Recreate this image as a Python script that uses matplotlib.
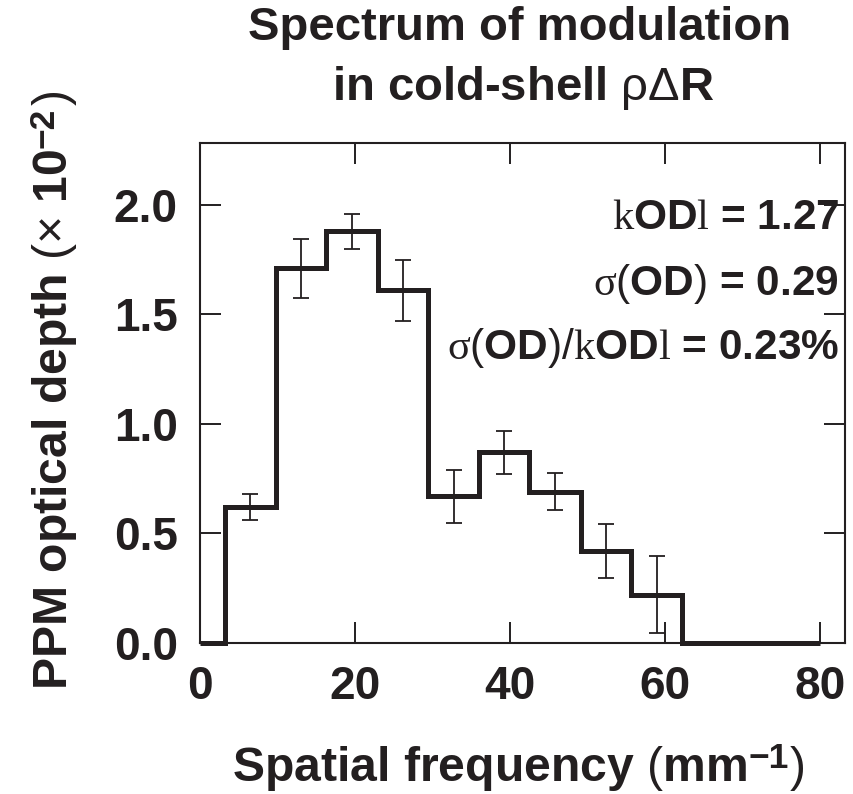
import matplotlib
matplotlib.use("Agg")
import matplotlib.pyplot as plt
import numpy as np

# ---- data ----
freq_edges = [0, 3.2, 9.8, 16.3, 22.9, 29.4, 36.0, 42.5, 49.1, 55.6, 62.2, 80]
ppm_values = [0, 0.62, 1.71, 1.88, 1.61, 0.67, 0.87, 0.69, 0.42, 0.22, 0]
ppm_errors = [0.06, 0.135, 0.08, 0.14, 0.12, 0.10, 0.085, 0.125, 0.175]
x_ticks = [0, 20, 40, 60, 80]
y_ticks = [0.0, 0.5, 1.0, 1.5, 2.0]
stats_lines = [
    r"$\mathsf{k}$OD$\mathsf{l}$ = 1.27",
    r"$\mathsf{\sigma}\mathrm{(}$OD$\mathrm{)}$ = 0.29",
    r"$\mathsf{\sigma}\mathrm{(}$OD$\mathrm{)/}\mathsf{k}$OD$\mathsf{l}$ = 0.23%",
]
xlabel_parts = [r"Spatial frequency $\mathrm{(}$mm", "\u22121", r"$\mathrm{)}$"]
ylabel_parts = [r"PPM optical depth $\mathrm{(\times\ }$10", "\u22122", r"$\mathrm{)}$"]

plt.rcParams['font.family'] = ['Liberation Sans', 'DejaVu Sans']
plt.rcParams['mathtext.fontset'] = 'custom'
plt.rcParams['mathtext.rm'] = 'Liberation Sans:weight=normal'
plt.rcParams['mathtext.bf'] = 'Liberation Sans:weight=bold'
plt.rcParams['mathtext.sf'] = 'Liberation Serif:weight=normal'
plt.rcParams['mathtext.it'] = 'Liberation Sans:style=italic'

INK = '#231f20'
W, H = 854, 794
fig = plt.figure(figsize=(W / 100, H / 100), dpi=100)
ax = fig.add_axes([200 / W, 1 - 643 / H, 645 / W, 500 / H])
renderer = fig.canvas.get_renderer()

edges = np.array(freq_edges)
vals = np.array(ppm_values)
sp = ax.stairs(vals, edges, baseline=None, color=INK, linewidth=3.6, clip_on=False)
sp.set_joinstyle('miter')
sp.set_capstyle('butt')

centers = 0.5 * (edges[1:-2] + edges[2:-1])
ax.errorbar(centers, vals[1:-1], yerr=ppm_errors, fmt='none', ecolor=INK,
            elinewidth=1.3, capsize=6, capthick=1.3)

ax.set_xlim(0, 83.2)
ax.set_ylim(0, 2.283)
ax.set_xticks(x_ticks)
ax.set_yticks(y_ticks)
ax.set_yticklabels([f"{v:.1f}" for v in y_ticks])
ax.tick_params(direction='in', length=15, width=1.4, top=True, right=True,
               labelsize=33, pad=16, colors=INK)
for lab in ax.get_xticklabels() + ax.get_yticklabels():
    lab.set_fontweight('bold')
for s in ax.spines.values():
    s.set_linewidth(1.5)
    s.set_color(INK)

ys = [0.828, 0.696, 0.568]
for txt, yy in zip(stats_lines, ys):
    ax.text(0.991, yy, txt, transform=ax.transAxes, ha='right', va='baseline',
            fontsize=30.5, fontweight='bold', color=INK)

# title
fig.text(520 / W, 1 - 40 / H, "Spectrum of modulation", ha='center', va='baseline',
         fontsize=34, fontweight='bold', color=INK)
fig.text(523 / W, 1 - 100 / H, r"in cold-shell $\mathrm{\rho\Delta}$R", ha='center',
         va='baseline', fontsize=34, fontweight='bold', color=INK)


def chain(parts, start, base, rotated=False):
    """parts: main text, superscript, closing; start/base in display pixels."""
    sizes = [34.7, 25.5, 34.7]
    raises = [0, 13, 0]
    gaps = [1, 1, 0]
    pos = start
    for s, size, dy, gap in zip(parts, sizes, raises, gaps):
        if not rotated:
            t = fig.text(pos / W, (base + dy) / H, s, ha='left', va='baseline',
                         fontsize=size, fontweight='bold', color=INK)
            ext = t.get_window_extent(renderer)
            pos = ext.x1 + gap
        else:
            t = fig.text((base - dy) / W, pos / H, s, ha='left', va='baseline',
                         rotation=90, rotation_mode='anchor',
                         fontsize=size, fontweight='bold', color=INK)
            ext = t.get_window_extent(renderer)
            pos = ext.y1 + gap


chain(xlabel_parts, 232, H - 781)
chain(ylabel_parts, H - 690, 67, rotated=True)

fig.savefig("out.png", dpi=100)
